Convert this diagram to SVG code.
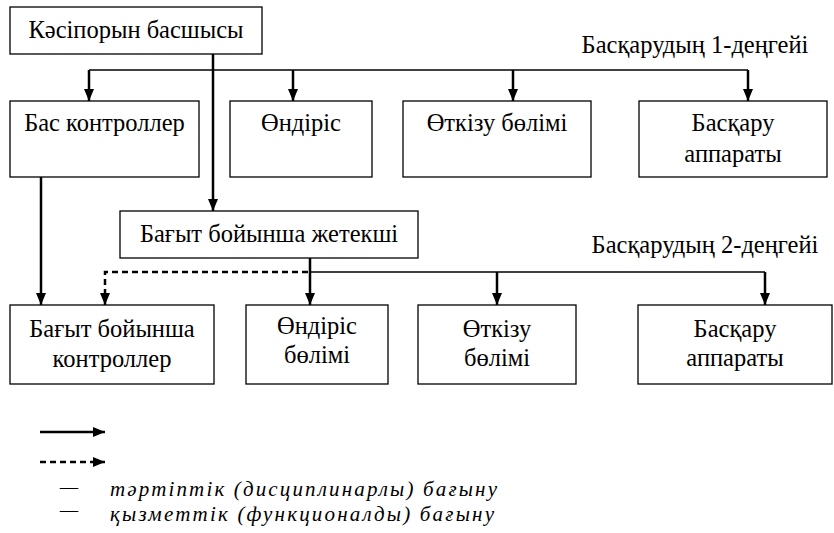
<svg xmlns="http://www.w3.org/2000/svg" width="834" height="533" viewBox="0 0 834 533">
<defs>
<marker id="ah" markerWidth="12" markerHeight="10" refX="12" refY="5" orient="auto" markerUnits="userSpaceOnUse" viewBox="0 0 12 10">
<path d="M0,0 L12,5 L0,10 Z" fill="#000"/>
</marker>
<style>
rect.n{fill:#fff;stroke:#000;stroke-width:1.3}
text{font-family:"Liberation Serif","Times New Roman",serif;font-size:24.5px;fill:#000;text-anchor:middle}
text.lg{font-style:italic;font-size:21px;text-anchor:start}
.c{fill:none;stroke:#000;stroke-width:2.5}
.h{fill:none;stroke:#000;stroke-width:1.5}
.d{fill:none;stroke:#000;stroke-width:2.5;stroke-dasharray:6 4}
</style>
</defs>
<rect width="834" height="533" fill="#fff"/>
<g id="connectors">
<path class="h" d="M89,70 H748"/>
<path class="c" d="M89,70 V101" marker-end="url(#ah)"/>
<path class="c" d="M293,70 V101" marker-end="url(#ah)"/>
<path class="c" d="M513,70 V101" marker-end="url(#ah)"/>
<path class="c" d="M748,70 V101" marker-end="url(#ah)"/>
<path class="c" d="M213,54 V211" marker-end="url(#ah)"/>
<path class="c" d="M41,177 V305" marker-end="url(#ah)"/>
<path class="h" d="M310,272 H765"/>
<path class="c" d="M310,258 V305" marker-end="url(#ah)"/>
<path class="c" d="M497,272 V305" marker-end="url(#ah)"/>
<path class="c" d="M765,272 V305" marker-end="url(#ah)"/>
<path class="d" d="M308,272 H105 V305" marker-end="url(#ah)"/>
</g>
<g id="n_head"><rect class="n" x="10" y="7" width="252" height="47"/><text x="136" y="38">Кәсіпорын басшысы</text></g>
<g id="lvl1_label"><text x="695" y="53">Басқарудың 1-деңгейі</text></g>
<g id="n_bas_kontr"><rect class="n" x="10" y="101" width="189" height="76"/><text x="104.5" y="131">Бас контроллер</text></g>
<g id="n_ondiris"><rect class="n" x="230" y="101" width="142" height="76"/><text x="301" y="131">Өндіріс</text></g>
<g id="n_otkizu"><rect class="n" x="403" y="101" width="188" height="76"/><text x="497" y="131">Өткізу бөлімі</text></g>
<g id="n_baskaru"><rect class="n" x="639" y="101" width="188" height="76"/><text x="733" y="131">Басқару</text><text x="733" y="162">аппараты</text></g>
<g id="n_zhetekshi"><rect class="n" x="120" y="211" width="298" height="47"/><text x="269" y="242">Бағыт бойынша жетекші</text></g>
<g id="lvl2_label"><text x="705" y="253">Басқарудың 2-деңгейі</text></g>
<g id="n_bag_kontr"><rect class="n" x="10" y="305" width="204" height="79"/><text x="112" y="337">Бағыт бойынша</text><text x="112" y="367">контроллер</text></g>
<g id="n_ondiris2"><rect class="n" x="246" y="305" width="142" height="79"/><text x="317" y="334">Өндіріс</text><text x="317" y="363">бөлімі</text></g>
<g id="n_otkizu2"><rect class="n" x="418" y="305" width="158" height="79"/><text x="497" y="337">Өткізу</text><text x="497" y="366">бөлімі</text></g>
<g id="n_baskaru2"><rect class="n" x="638" y="305" width="194" height="79"/><text x="735" y="337">Басқару</text><text x="735" y="366">аппараты</text></g>
<g id="legend">
<path class="c" d="M40,432 H105" marker-end="url(#ah)"/>
<path class="d" d="M40,462 H105" marker-end="url(#ah)"/>
<text class="lg" x="60" y="494" textLength="18" lengthAdjust="spacingAndGlyphs">–</text>
<text class="lg" x="110" y="496" textLength="387" lengthAdjust="spacing">тәртіптік (дисциплинарлы) бағыну</text>
<text class="lg" x="60" y="517" textLength="18" lengthAdjust="spacingAndGlyphs">–</text>
<text class="lg" x="110" y="521" textLength="384" lengthAdjust="spacing">қызметтік (функционалды) бағыну</text>
</g>
</svg>
